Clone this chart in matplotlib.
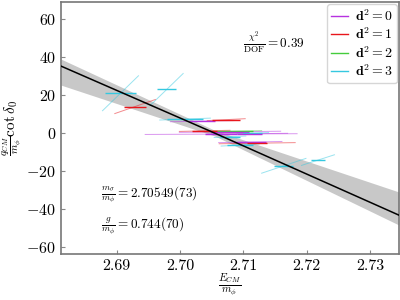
import numpy as np
import matplotlib
matplotlib.use("Agg")
import matplotlib.pyplot as plt

plt.rcParams['mathtext.fontset'] = 'cm'
plt.rcParams['font.family'] = ['cmr10', 'DejaVu Serif']
plt.rcParams['axes.formatter.use_mathtext'] = True

# lattice points: moving frame d^2, E_CM/m_phi (+ error), q cot(delta)/m_phi,
# and the half extent of the correlated (diagonal) error band
d2 = [3, 3, 1, 3, 3,
      3, 0, 1,
      2, 0, 1, 0, 3, 0,
      0, 1, 3, 3]
e_cm = [2.6906, 2.6979, 2.6929, 2.7164, 2.7218,
        2.7008, 2.7035, 2.7073,
        2.7084, 2.7079, 2.7039, 2.7065, 2.7115, 2.7110,
        2.7111, 2.7122, 2.7095, 2.7079]
e_err = [0.0025, 0.0015, 0.0018, 0.0015, 0.00105,
         0.0028, 0.0020, 0.0022,
         0.0032, 0.0030, 0.0020, 0.0025, 0.0015, 0.0020,
         0.0025, 0.0016, 0.0020, 0.0016]
qcot = [21.0, 23.0, 14.0, -17.2, -14.2,
        7.4, 6.3, 7.1,
        1.0, 0.7, 1.2, -0.5, 0.0, -0.3,
        -4.7, -5.3, -6.3, -1.9]
diag_dx = [0.00284, 0.0026, 0.0032, 0.0035, 0.0026,
           0.0040, 0.0050, 0.0030,
           0.0045, 0.0080, 0.0040, 0.0120, 0.0025, 0.0060,
           0.0050, 0.0060, 0.0030, 0.0025]
diag_dy = [9.2, 8.4, 3.7, 3.9, 2.8,
           0.5, 0.3, 0.5,
           0.3, 0.3, 0.3, 0.2, 0.3, 0.2,
           0.3, 0.3, 0.5, 0.4]

colors = {0: '#b632e0', 1: '#e8161c', 2: '#44cc3c', 3: '#35c8e0'}

# fit line and its error band
fit_x = [2.6812, 2.70549, 2.7346]
fit_y = [35.3, 0.0, -43.2]
band_upper = [39.0, 1.5, -31.0]
band_lower = [25.3, -1.5, -48.4]

fig = plt.figure(figsize=(4, 3), dpi=100)
ax = fig.add_axes([0.1525, 0.153, 0.845, 0.84])

ax.fill_between(fit_x, band_lower, band_upper, color='#c8c8c8', lw=0, zorder=1)
ax.plot(fit_x, fit_y, color='black', lw=1.1, zorder=4)

for i in range(len(d2)):
    c = colors[d2[i]]
    ax.plot([e_cm[i] - diag_dx[i], e_cm[i] + diag_dx[i]],
            [qcot[i] - diag_dy[i], qcot[i] + diag_dy[i]],
            color=c, lw=0.7, alpha=0.5, zorder=2)
    ax.hlines(qcot[i], e_cm[i] - e_err[i], e_cm[i] + e_err[i],
              color=c, lw=1.0, zorder=3)

for k in [0, 1, 2, 3]:
    ax.plot([], [], color=colors[k], lw=1.0, label=r'$\mathbf{d}^2=%d$' % k)

leg = ax.legend(loc='upper right', fontsize=10, handlelength=1.2,
                borderpad=0.3, labelspacing=0.2, handletextpad=0.5,
                borderaxespad=0.15)
leg.get_frame().set_edgecolor('#cccccc')

ax.text(2.7099, 48, r'$\frac{\chi^2}{\rm DOF}=0.39$', fontsize=9.5, va='center')
ax.text(2.6875, -32.6, r'$\frac{m_\sigma}{m_\phi}=2.70549(73)$', fontsize=9.5, va='center')
ax.text(2.6875, -48.5, r'$\frac{g}{m_\phi}=0.744(70)$', fontsize=9.5, va='center')

ax.set_xlim(2.6812, 2.7346)
ax.set_ylim(-63.7, 69)
ax.set_xticks([2.69, 2.70, 2.71, 2.72, 2.73])
ax.set_xticklabels(['2.69', '2.70', '2.71', '2.72', '2.73'])
ax.set_yticks([-60, -40, -20, 0, 20, 40, 60])
ax.tick_params(direction='in', length=3, color='#888888', labelsize=11.5)
for s in ax.spines.values():
    s.set_color('#777777')
    s.set_linewidth(1.2)

ax.set_xlabel(r'$\frac{E_{CM}}{m_\phi}$', fontsize=11)
ax.xaxis.set_label_coords(0.5, -0.07)
ax.set_ylabel(r'$\frac{q_{CM}}{m_\phi}\cot\delta_0$', fontsize=11, labelpad=2)

fig.savefig('out.png', dpi=100)
